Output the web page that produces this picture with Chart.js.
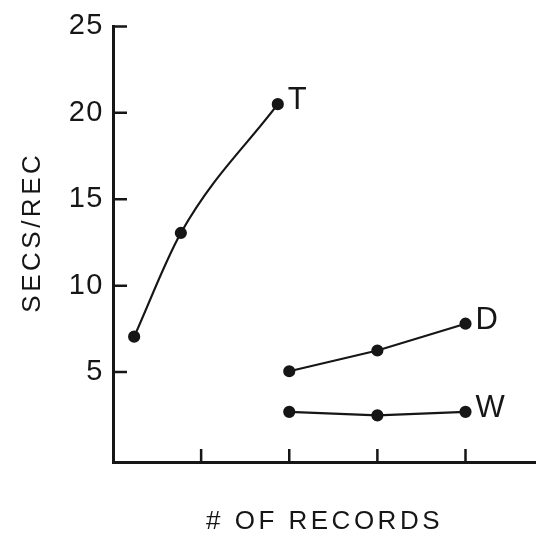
<!DOCTYPE html>
<html>
<head>
<meta charset="utf-8">
<script src="https://cdn.jsdelivr.net/npm/chart.js@4.4.1/dist/chart.umd.min.js"></script>
<style>
  html, body { margin: 0; padding: 0; background: #fff; }
  #wrap { width: 536px; height: 546px; }
</style>
</head>
<body>
<div id="wrap"><canvas id="c" width="536" height="546"></canvas></div>
<script>
// values
var seriesNames = ['T', 'D', 'W'];
var tX = [0.24, 0.77, 1.87];
var tY = [7.05, 13.05, 20.5];
var dX = [2, 3, 4];
var dY = [5.05, 6.25, 7.8];
var wX = [2, 3, 4];
var wY = [2.7, 2.5, 2.7];
var xTickValues = [1, 2, 3, 4];
var yTickValues = [5, 10, 15, 20, 25];

var INK = '#161616';
var FONT = "'Liberation Sans', Arial, Helvetica, sans-serif";

function pts(xs, ys) {
    return xs.map(function (x, i) { return { x: x, y: ys[i] }; });
}

function makeSet(label, xs, ys, curved) {
    return {
        label: label,
        data: pts(xs, ys),
        showLine: true,
        borderColor: INK,
        backgroundColor: INK,
        borderWidth: 2.2,
        pointRadius: 5,
        pointHoverRadius: 5,
        tension: curved ? 0.4 : 0,
        cubicInterpolationMode: curved ? 'monotone' : 'default'
    };
}

// wider letter spacing for the axis titles, like the typeset original
function spaceTitle(scale, spacing, dy) {
    if (scale._spaced) { return; }
    scale._spaced = true;
    var orig = scale.drawTitle;
    scale.drawTitle = function () {
        var ctx = this.ctx;
        ctx.save();
        ctx.letterSpacing = spacing;
        ctx.translate(0, dy);
        orig.apply(this, arguments);
        ctx.restore();
    };
}

// inward tick marks + end-of-line letters
var extras = {
    id: 'extras',
    afterLayout: function (chart) {
        spaceTitle(chart.scales.x, '3.5px', 0);
        spaceTitle(chart.scales.y, '3.5px', -12);
    },
    beforeDraw: function (chart) {
        chart.ctx.letterSpacing = '1.5px';
    },
    afterDraw: function (chart) {
        var ctx = chart.ctx, a = chart.chartArea;
        var xs = chart.scales.x, ys = chart.scales.y;
        ctx.save();
        ctx.strokeStyle = INK;
        ctx.lineWidth = 2.5;
        ctx.beginPath();
        yTickValues.forEach(function (v) {
            var py = ys.getPixelForValue(v);
            ctx.moveTo(a.left, py);
            ctx.lineTo(a.left + 14, py);
        });
        xTickValues.forEach(function (v) {
            var px = xs.getPixelForValue(v);
            ctx.moveTo(px, a.bottom);
            ctx.lineTo(px, a.bottom - 13);
        });
        ctx.stroke();

        ctx.fillStyle = INK;
        ctx.font = '31px ' + FONT;
        ctx.textBaseline = 'middle';
        ctx.textAlign = 'left';
        chart.data.datasets.forEach(function (ds, i) {
            var meta = chart.getDatasetMeta(i);
            var last = meta.data[meta.data.length - 1];
            ctx.fillText(ds.label, last.x + 10, last.y - 3.5);
        });
        ctx.restore();
    }
};

new Chart(document.getElementById('c'), {
    type: 'scatter',
    data: {
        datasets: [
            makeSet(seriesNames[0], tX, tY, true),
            makeSet(seriesNames[1], dX, dY, false),
            makeSet(seriesNames[2], wX, wY, false)
        ]
    },
    options: {
        responsive: false,
        animation: false,
        layout: { autoPadding: false, padding: { top: 20, right: 0, left: 0, bottom: 0 } },
        plugins: { legend: { display: false }, tooltip: { enabled: false } },
        scales: {
            x: {
                type: 'linear',
                min: 0,
                max: 4.8,
                afterBuildTicks: function (s) { s.ticks = xTickValues.map(function (v) { return { value: v }; }); },
                afterFit: function (s) { s.height = 84; },
                grid: { display: false, drawTicks: false },
                border: { display: true, color: INK, width: 3 },
                ticks: { display: false },
                title: {
                    display: true,
                    text: '# OF RECORDS',
                    color: INK,
                    font: { family: FONT, size: 26 },
                    padding: { top: 0, bottom: 9 }
                }
            },
            y: {
                type: 'linear',
                min: -0.2,
                max: 25,
                afterBuildTicks: function (s) { s.ticks = yTickValues.map(function (v) { return { value: v }; }); },
                afterFit: function (s) { s.width = 113; },
                grid: { display: false, drawTicks: false },
                border: { display: true, color: INK, width: 3 },
                ticks: {
                    color: INK,
                    padding: 9,
                    font: { family: FONT, size: 29 }
                },
                title: {
                    display: true,
                    text: 'SECS/REC',
                    color: INK,
                    font: { family: FONT, size: 26 },
                    padding: { top: 17, bottom: 0 }
                }
            }
        }
    },
    plugins: [extras]
});
</script>
</body>
</html>
